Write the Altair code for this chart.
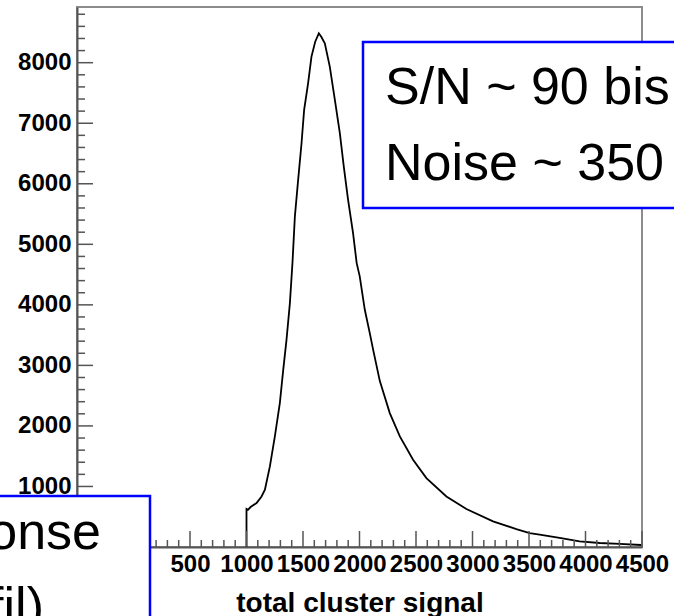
import altair as alt
import pandas as pd

# ---- data ----
sig_x = [1000, 1000, 1015, 1036, 1089, 1133, 1163, 1207, 1251, 1295, 1325, 1354, 1384,
         1407, 1428, 1457, 1487, 1510, 1545, 1575, 1608, 1640, 1663, 1693, 1737, 1782,
         1826, 1861, 1899, 1943, 1975, 2002, 2047, 2091, 2121, 2180, 2268, 2357, 2474,
         2592, 2769, 2946, 3182, 3388, 3506, 3594, 3771, 3948, 4125, 4302, 4494]
counts = [0, 630, 616, 660, 726, 835, 946, 1331, 1826, 2377, 2927, 3423, 4028,
          4700, 5458, 6064, 6670, 7220, 7660, 8100, 8347, 8486, 8425, 8321, 7935, 7385,
          6835, 6284, 5734, 5184, 4690, 4470, 3918, 3533, 3257, 2740, 2212, 1826, 1441,
          1139, 835, 627, 423, 297, 231, 203, 149, 92, 66, 50, 33]
assert len(sig_x) == len(counts)

x_labels = [0, 500, 1000, 1500, 2000, 2500, 3000, 3500, 4000, 4500]
y_labels = [1000, 2000, 3000, 4000, 5000, 6000, 7000, 8000]
x_major = [-500] + x_labels
x_minor = [v for v in range(-500, 4501, 100) if v % 500]
y_major = [0] + y_labels
y_minor = [v for v in range(200, 8801, 200) if v % 1000]
box1_lines = ["S/N ~ 90 bis", "Noise ~ 350"]
box2_lines = ["Réponse", "(sans profil)"]
x_title = "total cluster signal"

# ---- layout / style ----
W, H = 565, 540
FONT = "Liberation Sans"
xs = alt.Scale(domain=[-500, 4500], nice=False, zero=False)
ys = alt.Scale(domain=[0, 8920], nice=False, zero=False)
one = pd.DataFrame({"a": [0]})

x_axis = alt.Axis(
    values=x_labels, format="d", ticks=False, tickSize=0, grid=False,
    domainColor="#555555", domainWidth=2,
    labelFont=FONT, labelFontWeight="bold", labelFontSize=24, labelColor="black",
    labelPadding=5, labelFlush=False, labelOverlap=False,
    title=x_title, titleFont=FONT, titleFontWeight="bold", titleFontSize=28,
    titleColor="black", titleBaseline="alphabetic", titleY=64, titleX=W / 2,
    titleAnchor="middle", titleAlign="center")
y_axis = alt.Axis(
    values=y_labels, format="d", ticks=False, tickSize=0, grid=False,
    domainColor="#555555", domainWidth=2,
    labelFont=FONT, labelFontWeight="bold", labelFontSize=24, labelColor="black",
    labelPadding=6, labelFlush=False, labelOverlap=False, title=None)

hist = pd.DataFrame({"x": sig_x, "y": counts, "i": list(range(len(sig_x)))})

line = alt.Chart(hist).mark_line(color="black", strokeWidth=1.8).encode(
    x=alt.X("x:Q", scale=xs, axis=x_axis),
    y=alt.Y("y:Q", scale=ys, axis=y_axis),
    order="i:Q",
)

def xticks(vals, length):
    return alt.Chart(pd.DataFrame({"x": vals})).mark_rule(color="#555555", strokeWidth=1.5).encode(
        x=alt.X("x:Q", scale=xs, axis=x_axis), y=alt.value(H), y2=alt.value(H - length))

def yticks(vals, length):
    return alt.Chart(pd.DataFrame({"y": vals})).mark_rule(color="#555555", strokeWidth=1.5).encode(
        y=alt.Y("y:Q", scale=ys, axis=y_axis), x=alt.value(0), x2=alt.value(length))

box1 = alt.Chart(one).mark_rect(fill="white", stroke="#0000ff", strokeWidth=2.5).encode(
    x=alt.value(286), x2=alt.value(660), y=alt.value(35), y2=alt.value(201))
box2 = alt.Chart(one).mark_rect(fill="white", stroke="#0000ff", strokeWidth=2.5).encode(
    x=alt.value(-200), x2=alt.value(73), y=alt.value(489), y2=alt.value(700))

def txt(s, x, y, align):
    return alt.Chart(one).mark_text(font=FONT, fontSize=52, color="black", align=align,
                                    baseline="alphabetic").encode(
        x=alt.value(x), y=alt.value(y), text=alt.value(s))

chart = alt.layer(
    line,
    xticks(x_major, 16), xticks(x_minor, 7), yticks(y_major, 16), yticks(y_minor, 8),
    box1, txt(box1_lines[0], 308, 97, "left"), txt(box1_lines[1], 308, 173, "left"),
    box2, txt(box2_lines[0], 24, 542, "right"), txt(box2_lines[1], -33, 617, "right"),
).properties(
    width=W, height=H,
    autosize=alt.AutoSizeParams(type="none"),
    padding={"left": 77, "top": 7, "right": 32, "bottom": 69},
    background="white",
).configure_view(stroke="#8c8c8c", strokeWidth=2)

chart.save("out.html", embed_options={"renderer": "svg", "actions": False})
